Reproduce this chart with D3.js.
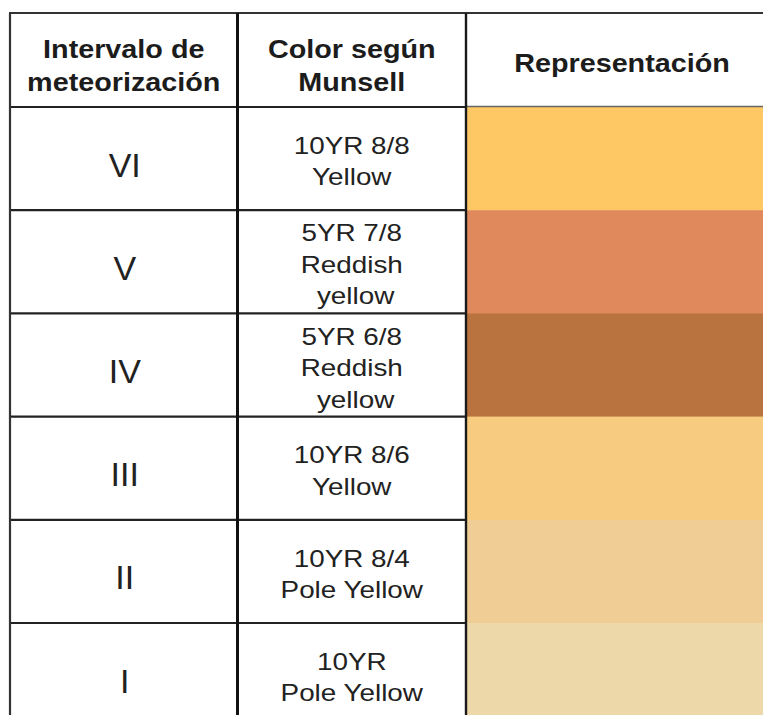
<!DOCTYPE html>
<html>
<head>
<meta charset="utf-8">
<script src="https://cdn.jsdelivr.net/npm/d3@7"></script>
<style>
  html, body { margin: 0; padding: 0; background: #ffffff; }
  svg { display: block; }
</style>
</head>
<body>
<div id="chart"></div>
<script>
// ---- Data ----
const headers = [["Intervalo de", "meteorización"], ["Color según", "Munsell"], ["Representación"]];
const intervals = ["VI", "V", "IV", "III", "II", "I"];
const munsellLines = [
  ["10YR 8/8", "Yellow"],
  ["5YR 7/8", "Reddish", " yellow"],
  ["5YR 6/8", "Reddish", " yellow"],
  ["10YR 8/6", "Yellow"],
  ["10YR 8/4", "Pole Yellow"],
  ["10YR", "Pole Yellow"]
];
const swatchColors = ["#fec964", "#df895c", "#b9733f", "#f8cc80", "#f1cd96", "#edd8aa"];

// ---- Layout ----
const W = 763, H = 715;
const tableTop = 13, headerBottom = 107, rowH = 103.2;
const colEdges = [10, 237.5, 466, 778];
const font = "'Liberation Sans', Arial, sans-serif";
const ink = "#1c1c1c";

const svg = d3.select("#chart").append("svg").attr("width", W).attr("height", H);

const y = d3.scaleBand()
  .domain(intervals)
  .range([headerBottom, headerBottom + rowH * intervals.length])
  .paddingInner(0).paddingOuter(0);

const colCenter = i => (colEdges[i] + colEdges[i + 1]) / 2;

// White background cells
svg.append("rect").attr("x", colEdges[0]).attr("y", tableTop)
  .attr("width", colEdges[3] - colEdges[0]).attr("height", H).attr("fill", "#fff");

// Swatches
svg.append("g").selectAll("rect")
  .data(intervals)
  .join("rect")
  .attr("x", colEdges[2])
  .attr("y", d => y(d))
  .attr("width", colEdges[3] - colEdges[2])
  .attr("height", y.bandwidth() + 0.5)
  .attr("fill", (d, i) => swatchColors[i]);

// Grid lines
const grid = svg.append("g").attr("stroke", "#222").attr("fill", "none");
// top border
grid.append("line").attr("x1", colEdges[0] - 1).attr("x2", W).attr("y1", tableTop).attr("y2", tableTop).attr("stroke-width", 2.2).attr("stroke", "#333");
// header bottom line
grid.append("line").attr("x1", colEdges[0]).attr("x2", colEdges[2]).attr("y1", headerBottom).attr("y2", headerBottom).attr("stroke-width", 2.2);
grid.append("line").attr("x1", colEdges[2]).attr("x2", W).attr("y1", headerBottom - 0.5).attr("y2", headerBottom - 0.5).attr("stroke-width", 1.5).attr("stroke", "#666");
// row lines (only under first two columns)
grid.selectAll("line.row")
  .data(intervals.slice(1))
  .join("line")
  .attr("class", "row")
  .attr("x1", colEdges[0]).attr("x2", colEdges[2])
  .attr("y1", d => y(d)).attr("y2", d => y(d))
  .attr("stroke-width", 2.2);
// vertical lines
grid.append("line").attr("x1", colEdges[0]).attr("x2", colEdges[0]).attr("y1", tableTop).attr("y2", H).attr("stroke-width", 2.2).attr("stroke", "#333");
grid.append("line").attr("x1", colEdges[1]).attr("x2", colEdges[1]).attr("y1", tableTop).attr("y2", H).attr("stroke-width", 3).attr("stroke", "#111");
grid.append("line").attr("x1", colEdges[2]).attr("x2", colEdges[2]).attr("y1", tableTop).attr("y2", H).attr("stroke-width", 2.4).attr("stroke", "#1a1a1a");

// Header texts
const headerBaselines = [[57.5, 90.5], [58, 91], [72]];
headers.forEach((lines, c) => {
  lines.forEach((t, j) => {
    svg.append("text")
      .attr("transform", `translate(${colCenter(c)},${headerBaselines[c][j]}) scale(1.15,1)`)
      .attr("text-anchor", "middle")
      .attr("font-family", font)
      .attr("font-weight", "bold")
      .attr("font-size", 25)
      .attr("fill", ink)
      .text(t);
  });
});

// Interval numerals
svg.append("g").selectAll("text")
  .data(intervals)
  .join("text")
  .attr("x", colCenter(0) + 1)
  .attr("y", d => y(d) + y.bandwidth() / 2 + 18)
  .attr("text-anchor", "middle")
  .attr("font-family", font)
  .attr("font-size", 34)
  .attr("fill", "#222")
  .text(d => d);

// Munsell texts
const lineGap = 31.5;
intervals.forEach((d, i) => {
  const lines = munsellLines[i];
  const mid = y(d) + y.bandwidth() / 2 + 11;
  lines.forEach((t, j) => {
    svg.append("text")
      .attr("transform", `translate(${colCenter(1)},${mid + (j - (lines.length - 1) / 2) * lineGap}) scale(1.16,1)`)
      .attr("text-anchor", "middle")
      .attr("font-family", font)
      .attr("font-size", 24)
      .attr("fill", "#222")
      .attr("xml:space", "preserve")
      .style("white-space", "pre")
      .text(t);
  });
});
</script>
</body>
</html>
